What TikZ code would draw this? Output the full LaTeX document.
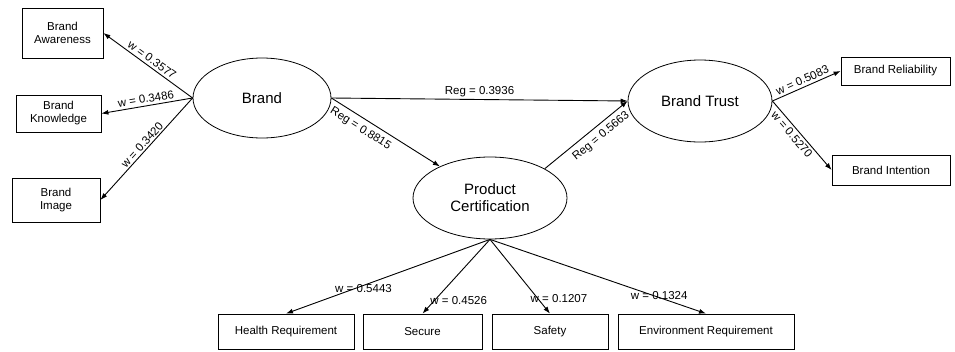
\documentclass[tikz,border=0pt]{standalone}
\usepackage{fontspec}
\setmainfont{Liberation Sans}
\usetikzlibrary{arrows.meta,shapes.geometric}
\begin{document}
\begin{tikzpicture}[x=1pt,y=-1pt,
 box/.style={draw, line width=0.8pt, inner sep=0pt, align=center, font=\fontsize{11.5}{13}\selectfont},
 oval/.style={draw, ellipse, line width=0.8pt, inner sep=0pt, align=center, font=\fontsize{15}{17}\selectfont},
 arr/.style={-{Latex[length=7pt,width=5pt]}, line width=0.9pt},
 lbl/.style={font=\fontsize{11.5}{13}\selectfont, inner sep=1pt},
 slbl/.style={lbl, sloped, inner sep=2.5pt}]
\useasboundingbox (0,0) rectangle (955,351);
% boxes
\node[box, minimum width=81, minimum height=50] (aw) at (62.5,33) {Brand\\Awareness};
\node[box, minimum width=85, minimum height=37] (kn) at (58.5,113.5) {Brand\\Knowledge};
\node[box, minimum width=88, minimum height=44] (im) at (56,200) {Brand\\Image};
\node[box, minimum width=109, minimum height=28] (rel) at (895.5,71) {Brand Reliability};
\node[box, minimum width=118, minimum height=30] (int) at (891,170) {Brand Intention};
\node[box, minimum width=136, minimum height=35] (hr) at (286,331.5) {Health Requirement};
\node[box, minimum width=119, minimum height=35] (sec) at (422.5,331.5) {Secure};
\node[box, minimum width=116, minimum height=35] (saf) at (550,331.5) {Safety};
\node[box, minimum width=176, minimum height=35] (env) at (706,331.5) {Environment Requirement};
% ellipses
\node[oval, minimum width=138, minimum height=80] (brand) at (262,98) {Brand};
\node[oval, minimum width=144, minimum height=82] (bt) at (700,101) {Brand Trust};
\node[oval, minimum width=154, minimum height=82] (pc) at (490,198) {Product\\Certification};
% connectors
\draw[arr] (brand.west) -- node[slbl, above, pos=0.5] {w = 0.3577} (aw.east);
\draw[arr] (brand.west) -- node[slbl, above, pos=0.5] {w = 0.3486} (kn.east);
\draw[arr] (brand.west) -- node[slbl, above, inner sep=1.5pt, pos=0.5] {w = 0.3420} (im.east);
\draw[arr] (brand.east) -- node[lbl, above, inner sep=2.5pt, pos=0.5] {Reg = 0.3936} (bt.west);
\draw[arr] (brand.east) -- node[slbl, below, inner sep=5pt, pos=0.32] {Reg = 0.8815} (pc);
\draw[arr] (pc.north east) -- node[slbl, below, inner sep=5pt, pos=0.6] {Reg = 0.5663} (bt.west);
\draw[arr] (bt.east) -- node[slbl, above, pos=0.48] {w = 0.5083} (rel.west);
\draw[arr] (bt.east) -- node[slbl, below, pos=0.42] {w = 0.5270} (int.west);
\draw[arr] (pc.south) -- node[lbl, pos=0.62, yshift=-3pt] {w = 0.5443} (hr.north);
\draw[arr] (pc.south) -- node[lbl, pos=0.82, xshift=24pt] {w = 0.4526} (sec.north);
\draw[arr] (pc.south) -- node[lbl, pos=0.8, xshift=21pt] {w = 0.1207} (saf.north);
\draw[arr] (pc.south) -- node[lbl, pos=0.76, xshift=5pt] {w = 0.1324} (env.north);
\end{tikzpicture}
\end{document}
